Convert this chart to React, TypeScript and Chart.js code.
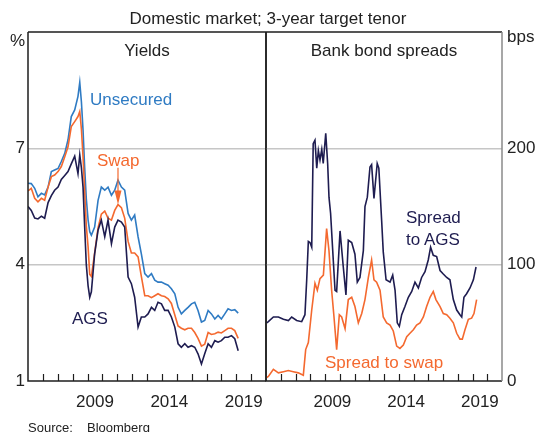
import React, { useEffect, useRef } from "react";
import { Chart, registerables } from "chart.js";

Chart.register(...registerables);

// ---------- Data ----------
// Yields panel (per cent), dates in decimal years
const yieldDates = [
  2005.0, 2005.22, 2005.45, 2005.67, 2005.9, 2006.12, 2006.35, 2006.57, 2006.79, 2007.02,
  2007.24, 2007.47, 2007.69, 2007.91, 2008.14, 2008.36, 2008.48, 2008.59, 2008.7, 2008.81,
  2008.92, 2009.04, 2009.15, 2009.26, 2009.48, 2009.71, 2009.93, 2010.16, 2010.38, 2010.61,
  2010.83, 2011.05, 2011.28, 2011.5, 2011.73, 2011.95, 2012.17, 2012.4, 2012.62, 2012.85,
  2013.07, 2013.3, 2013.52, 2013.74, 2013.97, 2014.19, 2014.42, 2014.64, 2014.87, 2015.09,
  2015.31, 2015.54, 2015.76, 2015.99, 2016.21, 2016.43, 2016.66, 2016.88, 2017.11, 2017.33,
  2017.56, 2017.78, 2018.0, 2018.23, 2018.45, 2018.68, 2018.9, 2019.13,
];
const unsecured = [
  6.1, 6.09, 5.97, 5.75, 5.84, 5.8, 6.0, 6.4, 6.44, 6.48, 6.66, 6.87, 7.22, 7.82, 7.99, 8.34,
  8.7, 8.2, 7.47, 6.5, 5.7, 5.15, 4.85, 4.76,
  4.97, 5.66, 6.0, 5.92, 6.0, 5.79, 5.92, 6.18, 6.0, 5.92,
  5.32, 5.15, 5.28, 4.72, 4.28, 3.77, 3.68, 3.77, 3.6, 3.55,
  3.55, 3.51, 3.47, 3.38, 3.25, 2.9, 2.73, 2.82, 2.9, 2.99,
  3.03, 2.82, 2.52, 2.56, 2.82, 2.73, 2.6, 2.69, 2.6, 2.73,
  2.86, 2.82, 2.84, 2.75,
];
const swap = [
  5.9, 5.97, 5.71, 5.62, 5.71, 5.66, 6.0, 6.27, 6.31, 6.4, 6.53, 6.78, 7.04, 7.56, 7.69, 7.82,
  7.95, 7.5, 6.78, 5.9, 5.0, 4.46, 3.75, 3.7,
  4.3, 4.95, 5.3, 5.38, 5.2, 5.15, 5.4, 5.55, 5.47, 5.2,
  4.6, 4.3, 4.3, 4.2, 3.7, 3.2, 3.2, 3.15, 3.2, 3.25,
  3.2, 3.18, 3.12, 3.0, 2.7, 2.42, 2.36, 2.32, 2.36, 2.36,
  2.25, 2.1, 1.9, 1.95, 2.25, 2.2, 2.22, 2.26, 2.24, 2.3,
  2.36, 2.36, 2.3, 2.1,
];
const ags = [
  5.5, 5.4, 5.2, 5.18, 5.25, 5.2, 5.6, 5.78, 5.92, 6.0, 6.2, 6.3, 6.4, 6.6, 6.8, 6.35,
  6.83, 6.5, 6.0, 4.97, 4.0, 3.45, 3.16, 3.3,
  4.28, 4.89, 5.15, 4.72, 5.15, 4.54, 4.97, 5.15, 5.1, 4.97,
  3.68, 3.51, 3.16, 2.39, 2.65, 2.65, 2.73, 2.9, 2.82, 3.03,
  2.99, 2.82, 2.82, 2.65, 2.39, 1.96, 1.87, 1.96, 1.87, 1.91,
  1.87, 1.7, 1.44, 1.7, 1.96, 1.87, 2.04, 2.0, 2.04, 2.13,
  2.13, 2.17, 2.09, 1.78,
];

// Spreads panel (basis points)
const spreadAgsDates = [
  2005.05, 2005.16, 2005.5, 2005.84, 2006.18, 2006.52, 2006.74, 2007.08, 2007.42, 2007.64,
  2007.76, 2007.87, 2007.98, 2008.1, 2008.2, 2008.32, 2008.44, 2008.55, 2008.66, 2008.78,
  2008.88, 2009.05, 2009.18, 2009.27, 2009.38, 2009.56, 2009.68, 2009.79, 2010.02, 2010.24,
  2010.42, 2010.58, 2010.81, 2011.03, 2011.19, 2011.37, 2011.6, 2011.71, 2011.87, 2012.05,
  2012.16, 2012.32, 2012.54, 2012.65, 2012.84, 2012.95, 2013.14, 2013.41, 2013.59, 2013.75,
  2013.9, 2014.04, 2014.2, 2014.42, 2014.65, 2014.88, 2015.1, 2015.33, 2015.55, 2015.78,
  2016.0, 2016.16, 2016.34, 2016.57, 2016.8, 2017.02, 2017.25, 2017.47, 2017.7, 2017.93,
  2018.15, 2018.27, 2018.42, 2018.6, 2018.83, 2019.06, 2019.24,
];
const spreadAgs = [
  50, 51, 55, 55, 53, 52, 55, 52, 51, 57,
  87, 120, 119, 115, 204, 207, 183, 198, 190, 199,
  187, 213, 187, 158, 144, 104, 78, 77, 129, 98,
  74, 121, 119, 109, 85, 89, 112, 150, 158, 184,
  186, 157, 187, 183, 138, 111, 87, 85, 91, 78,
  50, 47, 57, 64, 72, 77, 85, 80, 89, 94,
  104, 115, 108, 107, 95, 92, 89, 87, 70, 61,
  57, 55, 72, 75, 80, 87, 98,
];
const spreadSwapDates = [
  2005.05, 2005.16, 2005.5, 2005.84, 2006.18, 2006.51, 2006.85, 2007.19, 2007.53, 2007.69,
  2007.87, 2008.1, 2008.32, 2008.48, 2008.66, 2008.89, 2009.11, 2009.27, 2009.45, 2009.61,
  2009.79, 2009.97, 2010.13, 2010.36, 2010.58, 2010.81, 2011.03, 2011.26, 2011.49, 2011.71,
  2011.94, 2012.16, 2012.32, 2012.5, 2012.73, 2012.95, 2013.18, 2013.41, 2013.63, 2013.86,
  2014.08, 2014.31, 2014.54, 2014.76, 2014.99, 2015.21, 2015.44, 2015.67, 2015.89, 2016.12,
  2016.34, 2016.52, 2016.8, 2017.02, 2017.25, 2017.47, 2017.7, 2017.93, 2018.15, 2018.31,
  2018.49, 2018.72, 2018.94, 2019.1, 2019.28,
];
const spreadSwap = [
  3, 4, 10, 7, 8, 9, 8, 7, 5, 27,
  33, 61, 84, 78, 88, 91, 131, 112, 78, 55,
  27, 57, 55, 45, 70, 72, 64, 50, 58, 70,
  89, 104, 87, 85, 78, 55, 50, 48, 43, 30,
  28, 31, 38, 41, 44, 48, 50, 55, 64, 72,
  77, 70, 64, 58, 57, 54, 50, 41, 36, 36,
  44, 53, 54, 58, 70,
];

const xTickLabels = ["2009", "2014", "2019"];
const yieldTicks = [1, 4, 7];
const yieldGrid = [4, 7];
const spreadTicks = [0, 100, 200];
const spreadGrid = [100, 200];
// "Swap" label arrow (data coordinates)
const swapArrow = { year: 2011.05, from: 6.5, to: 5.55 };

// ---------- Styles ----------
const FONT = '"Liberation Sans", Arial, Helvetica, sans-serif';
const TEXT = "#222222";
const FRAME = "#1e1e1e";
const GRID = "#c6c6c6";
const BLUE = "#2f7bc3";
const ORANGE = "#f4692f";
const NAVY = "#1e1c50";

function makeFramePlugin(id: string, rightColor: string, arrow: boolean) {
  return {
    id,
    afterDatasetsDraw(chart: any) {
      const { ctx, chartArea: a, scales } = chart;
      const xs = scales.x;
      ctx.save();
      // inward year ticks
      ctx.strokeStyle = FRAME;
      ctx.lineWidth = 1.2;
      for (let yr = Math.floor(xs.min) + 1; yr < xs.max; yr++) {
        const px = Math.round(xs.getPixelForValue(yr)) + 0.5;
        ctx.beginPath();
        ctx.moveTo(px, a.bottom);
        ctx.lineTo(px, a.bottom - 7);
        ctx.stroke();
      }
      // frame
      ctx.lineWidth = 1.5;
      ctx.strokeStyle = FRAME;
      ctx.beginPath();
      ctx.moveTo(a.left, a.top);
      ctx.lineTo(a.right, a.top);
      ctx.moveTo(a.left, a.top);
      ctx.lineTo(a.left, a.bottom);
      ctx.lineTo(a.right, a.bottom);
      ctx.stroke();
      ctx.strokeStyle = rightColor;
      ctx.beginPath();
      ctx.moveTo(a.right, a.top);
      ctx.lineTo(a.right, a.bottom);
      ctx.stroke();
      if (arrow) {
        const ys = scales.y;
        const ax = xs.getPixelForValue(swapArrow.year);
        const y0 = ys.getPixelForValue(swapArrow.from);
        const y1 = ys.getPixelForValue(swapArrow.to);
        ctx.strokeStyle = ORANGE;
        ctx.fillStyle = ORANGE;
        ctx.lineWidth = 1.2;
        ctx.beginPath();
        ctx.moveTo(ax, y0);
        ctx.lineTo(ax, y1 - 10);
        ctx.stroke();
        ctx.beginPath();
        ctx.moveTo(ax - 3.5, y1 - 14);
        ctx.lineTo(ax + 3.5, y1 - 14);
        ctx.lineTo(ax, y1);
        ctx.closePath();
        ctx.fill();
      }
      ctx.restore();
    },
  };
}

function line(label: string, dates: number[], values: number[], color: string) {
  return {
    label,
    data: dates.map((d, i) => ({ x: d, y: values[i] })),
    borderColor: color,
    borderWidth: 1.6,
    pointRadius: 0,
    tension: 0,
    fill: false,
  };
}

function xAxis() {
  return {
    type: "linear" as const,
    min: 2005,
    max: 2021,
    afterBuildTicks: (axis: any) => {
      axis.ticks = xTickLabels.map((l) => ({ value: Number(l) + 0.5 }));
    },
    ticks: {
      callback: (v: any) => String(Math.floor(Number(v))),
      font: { family: FONT, size: 17 },
      color: TEXT,
      padding: 11,
      maxRotation: 0,
      autoSkip: false,
    },
    grid: { display: false, drawTicks: false },
    border: { display: false },
    afterFit: (s: any) => {
      s.height = 40;
    },
  };
}

function yAxis(position: "left" | "right", min: number, max: number, ticks: number[], grid: number[], width: number, padding: number) {
  return {
    position,
    min,
    max,
    afterBuildTicks: (axis: any) => {
      axis.ticks = ticks.map((v) => ({ value: v }));
    },
    ticks: {
      font: { family: FONT, size: 17 },
      color: TEXT,
      padding,
    },
    grid: {
      color: (c: any) => (c.tick && grid.includes(c.tick.value) ? GRID : "rgba(0,0,0,0)"),
      lineWidth: 1.5,
      drawTicks: false,
    },
    border: { display: false },
    afterFit: (s: any) => {
      s.width = width;
    },
  };
}

export default function App() {
  const leftRef = useRef<HTMLCanvasElement>(null);
  const rightRef = useRef<HTMLCanvasElement>(null);

  useEffect(() => {
    const common = {
      responsive: false,
      animation: false as const,
      events: [] as any[],
      plugins: { legend: { display: false }, tooltip: { enabled: false } },
    };
    const left = new Chart(leftRef.current!, {
      type: "line",
      data: {
        datasets: [
          line("AGS", yieldDates, ags, NAVY),
          line("Swap", yieldDates, swap, ORANGE),
          line("Unsecured", yieldDates, unsecured, BLUE),
        ],
      },
      options: {
        ...common,
        layout: { padding: { left: 0, right: 270, top: 32, bottom: 11 } },
        scales: {
          x: xAxis(),
          y: yAxis("left", 1, 10, yieldTicks, yieldGrid, 28, 3),
        },
      } as any,
      plugins: [makeFramePlugin("frameLeft", FRAME, true)],
    });
    const right = new Chart(rightRef.current!, {
      type: "line",
      data: {
        datasets: [
          line("Spread to AGS", spreadAgsDates, spreadAgs, NAVY),
          line("Spread to swap", spreadSwapDates, spreadSwap, ORANGE),
        ],
      },
      options: {
        ...common,
        layout: { padding: { left: 266, right: 0, top: 32, bottom: 11 } },
        scales: {
          x: xAxis(),
          y: yAxis("right", 0, 300, spreadTicks, spreadGrid, 34, 5),
        },
      } as any,
      plugins: [makeFramePlugin("frameRight", "#8a8a8a", false)],
    });
    return () => {
      left.destroy();
      right.destroy();
    };
  }, []);

  const txt = (
    text: string,
    style: React.CSSProperties,
    size = 17,
    color = TEXT
  ) => (
    <div
      style={{
        position: "absolute",
        fontFamily: FONT,
        fontSize: size,
        lineHeight: `${size}px`,
        color,
        whiteSpace: "nowrap",
        ...style,
      }}
    >
      {text}
    </div>
  );

  return (
    <div
      style={{
        position: "absolute",
        left: 0,
        top: 0,
        width: 536,
        height: 432,
        overflow: "hidden",
        background: "#ffffff",
      }}
    >
      <canvas ref={leftRef} width={536} height={432} style={{ position: "absolute", left: 0, top: 0 }} />
      <canvas ref={rightRef} width={536} height={432} style={{ position: "absolute", left: 0, top: 0 }} />
      {txt("Domestic market; 3-year target tenor", { left: 0, width: 536, textAlign: "center", top: 9.5 })}
      {txt("%", { left: 10, width: 15, textAlign: "right", top: 32 })}
      {txt("bps", { left: 507, top: 28.3 })}
      {txt("Yields", { left: 28, width: 238, textAlign: "center", top: 41.6 })}
      {txt("Bank bond spreads", { left: 266, width: 236, textAlign: "center", top: 42.3 })}
      {txt("Unsecured", { left: 90, top: 90.6 }, 17, BLUE)}
      {txt("Swap", { left: 97, top: 152.3 }, 17, ORANGE)}
      {txt("AGS", { left: 72, top: 309.6 }, 17, NAVY)}
      {txt("Spread", { left: 406, top: 209 }, 17, NAVY)}
      {txt("to AGS", { left: 406, top: 230.6 }, 17, NAVY)}
      {txt("Spread to swap", { left: 325, top: 354 }, 17, ORANGE)}
      {txt("Source:", { left: 28, top: 420.7 }, 13)}
      {txt("Bloomberg", { left: 87, top: 420.7 }, 13)}
    </div>
  );
}
